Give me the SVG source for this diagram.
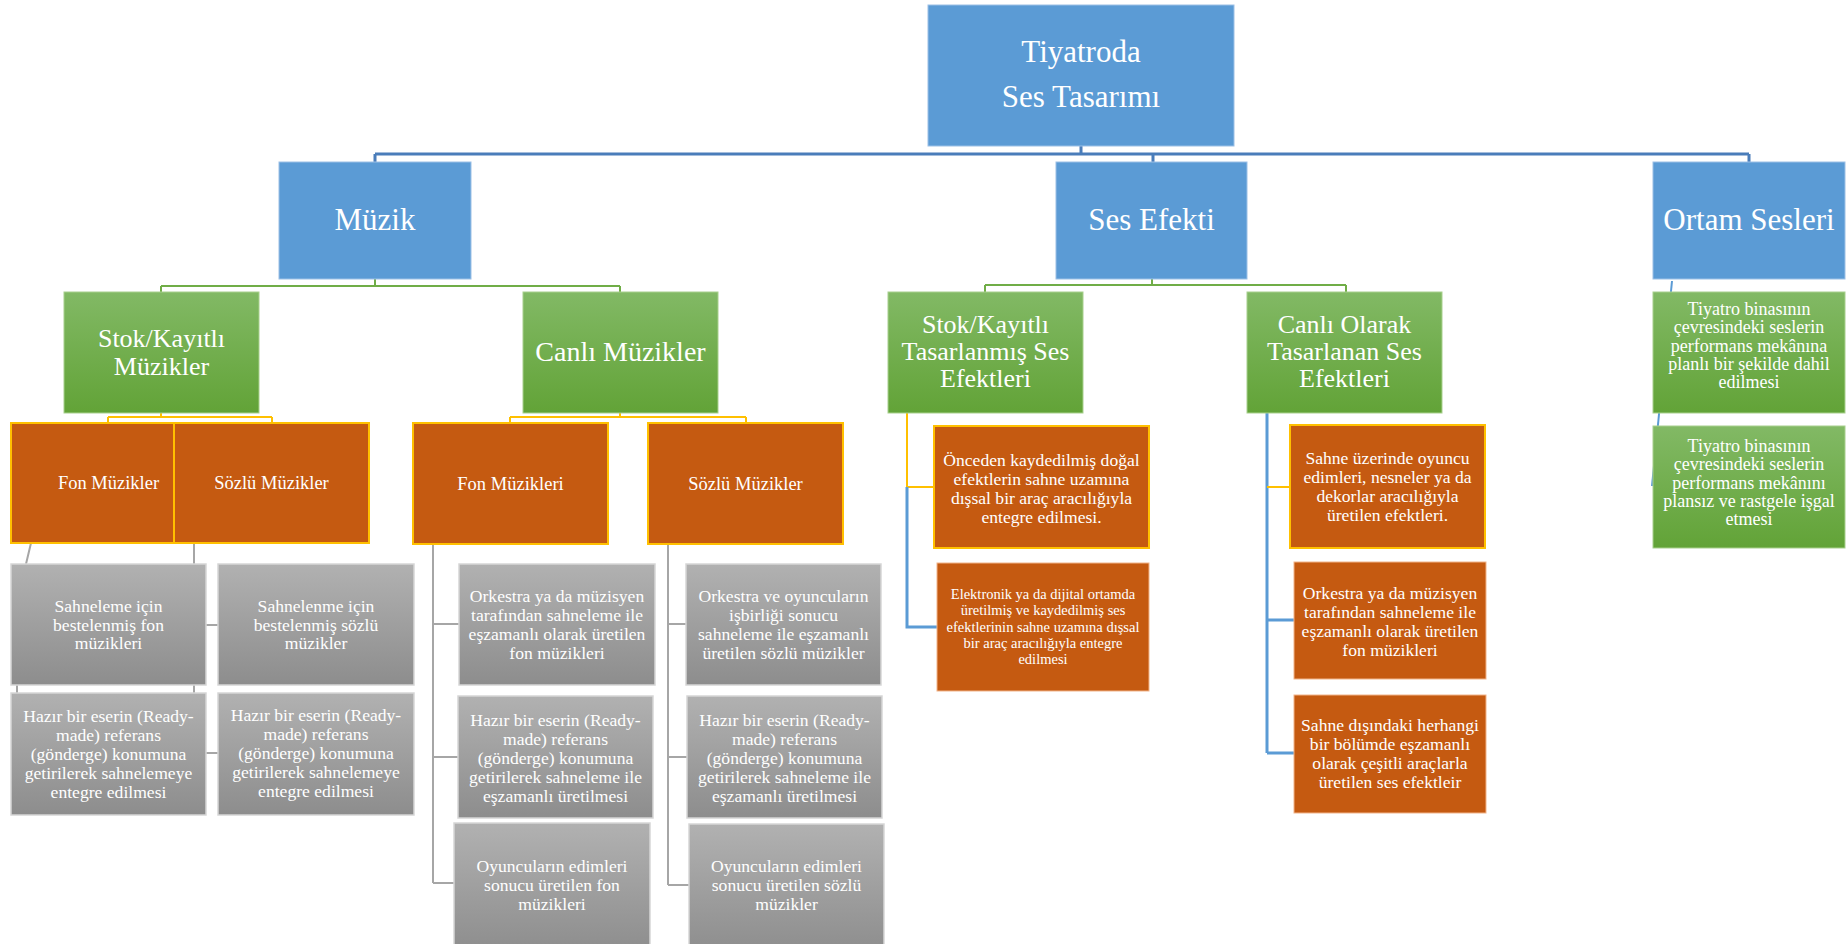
<svg xmlns="http://www.w3.org/2000/svg" width="1847" height="944" viewBox="0 0 1847 944">
<defs>
<linearGradient id="gGreen" x1="0" y1="0" x2="0" y2="1"><stop offset="0" stop-color="#82b965"/><stop offset="1" stop-color="#62a337"/></linearGradient>
<linearGradient id="gGray" x1="0" y1="0" x2="0" y2="1"><stop offset="0" stop-color="#b1b1b1"/><stop offset="1" stop-color="#8d8d8d"/></linearGradient>
<style>
text{font-family:"Liberation Serif","Times New Roman",serif;fill:#fff;text-anchor:middle}
.blue{fill:#5b9bd5;stroke:#9cc0e6;stroke-width:1}
.green{fill:url(#gGreen);stroke:#a8d08d;stroke-width:1}
.or3{fill:#c55a11;stroke:#ffc000;stroke-width:2}
.or4y{fill:#c55a11;stroke:#ffc000;stroke-width:2}
.or4{fill:#c55a11;stroke:#f1b48a;stroke-width:1}
.gray{fill:url(#gGray);stroke:#d6d6d6;stroke-width:1.5}
.t1{font-size:31px}
.t2{font-size:26px}
.t3{font-size:18.5px}
.t4{font-size:17.6px}
.t5{font-size:14.5px}
.cb{stroke:#4a7dba;stroke-width:3;fill:none}
.cg{stroke:#70ad47;stroke-width:2;fill:none}
.cy{stroke:#ffc000;stroke-width:2;fill:none}
.cgr{stroke:#a6a6a6;stroke-width:2;fill:none}
.cbl{stroke:#5b9bd5;stroke-width:3;fill:none}
</style>
</defs>
<rect width="1847" height="944" fill="#fff"/>
<g id="connectors">
<path class="cb" d="M1081 146V154M375 154H1749M375 154V162M1153 154V162M1749 154V162"/>
<path class="cg" d="M375 279V286M161 286H620M161 286V292M620 286V292"/>
<path class="cg" d="M1152 279V285M985 285H1346M985 285V292M1346 285V292"/>
<path class="cy" d="M161 413V417M108 417H272M108 417V423M272 417V423"/>
<path class="cy" d="M620 413V417M510 417H746M510 417V423M746 417V423"/>
<path class="cgr" d="M31 543L26 564M17 685V693M194 543V693M206 625H218M206 753H218"/>
<path class="cgr" d="M433 544V883M433 624H459M433 757H458M433 883H454"/>
<path class="cgr" d="M668 544V885M668 624H686M668 757H687M668 885H689"/>
<path class="cy" d="M907 413V487H934"/>
<path class="cbl" d="M907 487V627H937"/>
<path class="cbl" d="M1267 413V753M1267 620H1294M1267 753H1294"/>
<path class="cy" d="M1267 487H1290"/>
<path class="cbl" d="M1672 281L1652 486" style="stroke-width:2"/>
</g>
<g id="root"><rect class="blue" x="928" y="5" width="306" height="141"/><text class="t1" x="1081" y="62">Tiyatroda</text><text class="t1" x="1081" y="107">Ses Tasarımı</text></g>
<g id="muzik"><rect class="blue" x="279" y="162" width="192" height="117"/><text class="t1" x="375" y="230">Müzik</text></g>
<g id="ses-efekti"><rect class="blue" x="1056" y="162" width="191" height="117"/><text class="t1" x="1151.5" y="230">Ses Efekti</text></g>
<g id="ortam-sesleri"><rect class="blue" x="1653" y="162" width="192" height="117"/><text class="t1" x="1749" y="230">Ortam Sesleri</text></g>
<g id="stok-muzikler"><rect class="green" x="64" y="292" width="195" height="121"/><text class="t2" x="161.5" y="347">Stok/Kayıtlı</text><text class="t2" x="161.5" y="375">Müzikler</text></g>
<g id="canli-muzikler"><rect class="green" x="523" y="292" width="195" height="121"/><text class="t2" x="620.5" y="361" style="font-size:28px">Canlı Müzikler</text></g>
<g id="stok-efektler"><rect class="green" x="888" y="292" width="195" height="121"/><text class="t2" x="985.5" y="333">Stok/Kayıtlı</text><text class="t2" x="985.5" y="360">Tasarlanmış Ses</text><text class="t2" x="985.5" y="387">Efektleri</text></g>
<g id="canli-efektler"><rect class="green" x="1247" y="292" width="195" height="121"/><text class="t2" x="1344.5" y="333">Canlı Olarak</text><text class="t2" x="1344.5" y="360">Tasarlanan Ses</text><text class="t2" x="1344.5" y="387">Efektleri</text></g>
<g id="ortam-1"><rect class="green" x="1653" y="292" width="192" height="121"/><text class="t4" x="1749" y="315" style="font-size:18px">Tiyatro binasının</text><text class="t4" x="1749" y="333" style="font-size:18px">çevresindeki seslerin</text><text class="t4" x="1749" y="352" style="font-size:18px">performans mekânına</text><text class="t4" x="1749" y="370" style="font-size:18px">planlı bir şekilde dahil</text><text class="t4" x="1749" y="388" style="font-size:18px">edilmesi</text></g>
<g id="ortam-2"><rect class="green" x="1653" y="426" width="192" height="122"/><text class="t4" x="1749" y="452" style="font-size:18px">Tiyatro binasının</text><text class="t4" x="1749" y="470" style="font-size:18px">çevresindeki seslerin</text><text class="t4" x="1749" y="489" style="font-size:18px">performans mekânını</text><text class="t4" x="1749" y="507" style="font-size:18px">plansız ve rastgele işgal</text><text class="t4" x="1749" y="525" style="font-size:18px">etmesi</text></g>
<g id="fon-muzikler"><rect class="or3" x="11" y="423" width="195" height="120"/><text class="t3" x="108.5" y="489">Fon Müzikler</text></g>
<g id="sozlu-muzikler-1"><rect class="or3" x="174" y="423" width="195" height="120"/><text class="t3" x="271.5" y="489">Sözlü Müzikler</text></g>
<g id="fon-muzikleri"><rect class="or3" x="413" y="423" width="195" height="121"/><text class="t3" x="510.5" y="490">Fon Müzikleri</text></g>
<g id="sozlu-muzikler-2"><rect class="or3" x="648" y="423" width="195" height="121"/><text class="t3" x="745.5" y="490">Sözlü Müzikler</text></g>
<g id="g1"><rect class="gray" x="11" y="564" width="195" height="121"/><text class="t4" x="108.5" y="612">Sahneleme için</text><text class="t4" x="108.5" y="631">bestelenmiş fon</text><text class="t4" x="108.5" y="649">müzikleri</text></g>
<g id="g2"><rect class="gray" x="218" y="564" width="196" height="121"/><text class="t4" x="316" y="612">Sahnelenme için</text><text class="t4" x="316" y="631">bestelenmiş sözlü</text><text class="t4" x="316" y="649">müzikler</text></g>
<g id="g3"><rect class="gray" x="11" y="693" width="195" height="122"/><text class="t4" x="108.5" y="722">Hazır bir eserin (Ready-</text><text class="t4" x="108.5" y="741">made) referans</text><text class="t4" x="108.5" y="760">(gönderge) konumuna</text><text class="t4" x="108.5" y="779">getirilerek sahnelemeye</text><text class="t4" x="108.5" y="798">entegre edilmesi</text></g>
<g id="g4"><rect class="gray" x="218" y="693" width="196" height="122"/><text class="t4" x="316" y="721">Hazır bir eserin (Ready-</text><text class="t4" x="316" y="740">made) referans</text><text class="t4" x="316" y="759">(gönderge) konumuna</text><text class="t4" x="316" y="778">getirilerek sahnelemeye</text><text class="t4" x="316" y="797">entegre edilmesi</text></g>
<g id="g5"><rect class="gray" x="459" y="564" width="196" height="121"/><text class="t4" x="557" y="602">Orkestra ya da müzisyen</text><text class="t4" x="557" y="621">tarafından sahneleme ile</text><text class="t4" x="557" y="640">eşzamanlı olarak üretilen</text><text class="t4" x="557" y="659">fon müzikleri</text></g>
<g id="g6"><rect class="gray" x="458" y="696" width="195" height="122"/><text class="t4" x="555.5" y="726">Hazır bir eserin (Ready-</text><text class="t4" x="555.5" y="745">made) referans</text><text class="t4" x="555.5" y="764">(gönderge) konumuna</text><text class="t4" x="555.5" y="783">getirilerek sahneleme ile</text><text class="t4" x="555.5" y="802">eşzamanlı üretilmesi</text></g>
<g id="g7"><rect class="gray" x="454" y="823" width="196" height="130"/><text class="t4" x="552" y="872">Oyuncuların edimleri</text><text class="t4" x="552" y="891">sonucu üretilen fon</text><text class="t4" x="552" y="910">müzikleri</text></g>
<g id="g8"><rect class="gray" x="686" y="564" width="195" height="121"/><text class="t4" x="783.5" y="602">Orkestra ve oyuncuların</text><text class="t4" x="783.5" y="621">işbirliği sonucu</text><text class="t4" x="783.5" y="640">sahneleme ile eşzamanlı</text><text class="t4" x="783.5" y="659">üretilen sözlü müzikler</text></g>
<g id="g9"><rect class="gray" x="687" y="696" width="195" height="122"/><text class="t4" x="784.5" y="726">Hazır bir eserin (Ready-</text><text class="t4" x="784.5" y="745">made) referans</text><text class="t4" x="784.5" y="764">(gönderge) konumuna</text><text class="t4" x="784.5" y="783">getirilerek sahneleme ile</text><text class="t4" x="784.5" y="802">eşzamanlı üretilmesi</text></g>
<g id="g10"><rect class="gray" x="689" y="824" width="195" height="130"/><text class="t4" x="786.5" y="872">Oyuncuların edimleri</text><text class="t4" x="786.5" y="891">sonucu üretilen sözlü</text><text class="t4" x="786.5" y="910">müzikler</text></g>
<g id="o1"><rect class="or4y" x="934" y="426" width="215" height="122"/><text class="t4" x="1041.5" y="466">Önceden kaydedilmiş doğal</text><text class="t4" x="1041.5" y="485">efektlerin sahne uzamına</text><text class="t4" x="1041.5" y="504">dışsal bir araç aracılığıyla</text><text class="t4" x="1041.5" y="523">entegre edilmesi.</text></g>
<g id="o2"><rect class="or4" x="937" y="563" width="212" height="128"/><text class="t5" x="1043" y="599">Elektronik ya da dijital ortamda</text><text class="t5" x="1043" y="615">üretilmiş ve kaydedilmiş ses</text><text class="t5" x="1043" y="632">efektlerinin sahne uzamına dışsal</text><text class="t5" x="1043" y="648">bir araç aracılığıyla entegre</text><text class="t5" x="1043" y="664">edilmesi</text></g>
<g id="o3"><rect class="or4y" x="1290" y="425" width="195" height="123"/><text class="t4" x="1387.5" y="464">Sahne üzerinde oyuncu</text><text class="t4" x="1387.5" y="483">edimleri, nesneler ya da</text><text class="t4" x="1387.5" y="502">dekorlar aracılığıyla</text><text class="t4" x="1387.5" y="521">üretilen efektleri.</text></g>
<g id="o4"><rect class="or4" x="1294" y="562" width="192" height="117"/><text class="t4" x="1390" y="599">Orkestra ya da müzisyen</text><text class="t4" x="1390" y="618">tarafından sahneleme ile</text><text class="t4" x="1390" y="637">eşzamanlı olarak üretilen</text><text class="t4" x="1390" y="656">fon müzikleri</text></g>
<g id="o5"><rect class="or4" x="1294" y="695" width="192" height="118"/><text class="t4" x="1390" y="731">Sahne dışındaki herhangi</text><text class="t4" x="1390" y="750">bir bölümde eşzamanlı</text><text class="t4" x="1390" y="769">olarak çeşitli araçlarla</text><text class="t4" x="1390" y="788">üretilen ses efektleir</text></g>
</svg>
